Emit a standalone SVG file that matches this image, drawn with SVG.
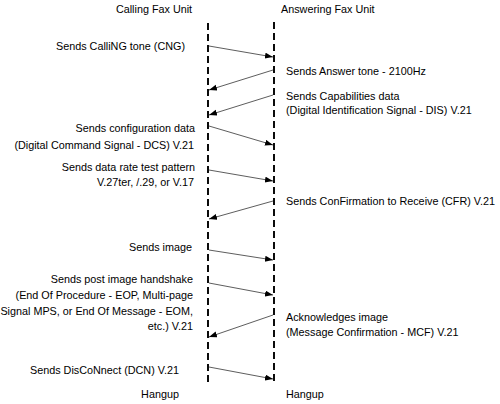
<svg xmlns="http://www.w3.org/2000/svg" width="500" height="404" viewBox="0 0 500 404">
<style>
text{font-family:"Liberation Sans",Arial,sans-serif;font-size:10.8px;fill:#000}
.l{text-anchor:end}
.life{stroke:#000;stroke-width:1.9;stroke-dasharray:7 4;fill:none}
.msg{stroke:#333;stroke-width:0.8;fill:none;marker-end:url(#ah)}
</style>
<defs>
<marker id="ah" markerUnits="userSpaceOnUse" markerWidth="9" markerHeight="7" refX="8" refY="3" orient="auto">
<path d="M0,0 L8,3 L0,6 z" fill="#000"/>
</marker>
</defs>
<rect width="500" height="404" fill="#fff"/>
<g id="calling">
<text x="154" y="13" text-anchor="middle">Calling Fax Unit</text>
<line class="life" x1="208" y1="23" x2="208" y2="386"/>
<text x="160" y="398" text-anchor="middle">Hangup</text>
</g>
<g id="answering">
<text x="281" y="13">Answering Fax Unit</text>
<line class="life" x1="274" y1="22" x2="274" y2="383"/>
<text x="286" y="398">Hangup</text>
</g>
<g id="connectors">
<line class="msg" x1="209" y1="46" x2="273" y2="57"/>
<line class="msg" x1="273" y1="70" x2="209" y2="90"/>
<line class="msg" x1="273" y1="95" x2="209" y2="115"/>
<line class="msg" x1="209" y1="126" x2="273" y2="145"/>
<line class="msg" x1="209" y1="170" x2="273" y2="181"/>
<line class="msg" x1="273" y1="201" x2="209" y2="219"/>
<line class="msg" x1="209" y1="250" x2="273" y2="260"/>
<line class="msg" x1="209" y1="283" x2="273" y2="295"/>
<line class="msg" x1="273" y1="315" x2="209" y2="337"/>
<line class="msg" x1="209" y1="367" x2="273" y2="379"/>
</g>
<g id="labels">
<text class="l" x="185" y="50">Sends CalliNG tone (CNG)</text>
<text x="286" y="75">Sends Answer tone - 2100Hz</text>
<text x="286" y="100">Sends Capabilities data</text>
<text x="286" y="114">(Digital Identification Signal - DIS) V.21</text>
<text class="l" x="195" y="132">Sends configuration data</text>
<text class="l" x="194" y="149">(Digital Command Signal - DCS) V.21</text>
<text class="l" x="195" y="171">Sends data rate test pattern</text>
<text class="l" x="194" y="186">V.27ter, /.29, or V.17</text>
<text x="286" y="205">Sends ConFirmation to Receive (CFR) V.21</text>
<text class="l" x="192" y="251">Sends image</text>
<text class="l" x="193" y="283">Sends post image handshake</text>
<text class="l" x="193" y="299">(End Of Procedure - EOP, Multi-page</text>
<text class="l" x="193" y="315">Signal MPS, or End Of Message - EOM,</text>
<text class="l" x="193" y="330">etc.) V.21</text>
<text x="286" y="321">Acknowledges image</text>
<text x="286" y="336">(Message Confirmation - MCF) V.21</text>
<text class="l" x="179" y="374">Sends DisCoNnect (DCN) V.21</text>
</g>
</svg>
